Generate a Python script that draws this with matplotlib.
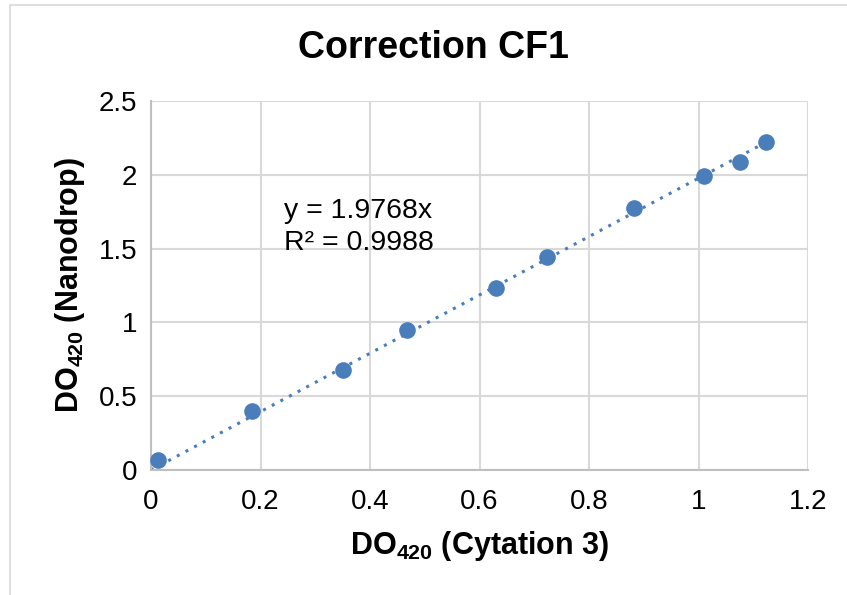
import matplotlib.pyplot as plt
import numpy as np
from matplotlib.patches import Rectangle

plt.rcParams['font.family'] = ['Liberation Sans', 'DejaVu Sans']
plt.rcParams['mathtext.fontset'] = 'custom'
plt.rcParams['mathtext.rm'] = 'Liberation Sans'
plt.rcParams['mathtext.bf'] = 'Liberation Sans:bold'

cytation = [0.013, 0.185, 0.351, 0.468, 0.631, 0.7225, 0.882, 1.01, 1.076, 1.123]
nanodrop = [0.068, 0.40, 0.68, 0.95, 1.236, 1.44, 1.773, 1.99, 2.09, 2.225]
slope = 1.9768
r2 = 0.9988

fig = plt.figure(figsize=(8.47, 5.95), dpi=100)
ax = fig.add_axes([151 / 847, 1 - 470 / 595, 657 / 847, 369 / 595])

# outer chart border
fig.patches.append(Rectangle((10 / 847, -0.05), 1.2, 1 - 5 / 595 + 0.05, transform=fig.transFigure,
                             fill=False, edgecolor='#d9d9d9', linewidth=1.2))

blue = '#4a7ebb'
xfit = np.array([0, max(cytation)])
ax.plot(xfit, slope * xfit, linestyle=(0, (1, 2.2)), color=blue, linewidth=2.2, zorder=2)
ax.scatter(cytation, nanodrop, s=120, color=blue, zorder=3, clip_on=False)

ax.set_xlim(0, 1.2)
ax.set_ylim(0, 2.5)
ax.set_xticks(np.arange(0, 1.21, 0.2))
ax.set_xticklabels(['0', '0.2', '0.4', '0.6', '0.8', '1', '1.2'])
ax.set_yticks(np.arange(0, 2.51, 0.5))
ax.set_yticklabels(['0', '0.5', '1', '1.5', '2', '2.5'])
ax.grid(True, color='#d9d9d9', linewidth=1.5)
ax.set_axisbelow(True)
for side in ['top', 'right']:
    ax.spines[side].set_visible(False)
for side in ['left', 'bottom']:
    ax.spines[side].set_color('#bfbfbf')
    ax.spines[side].set_linewidth(1.5)
ax.tick_params(length=0, labelsize=20, colors='#000000')
ax.tick_params(axis='x', pad=14)
ax.tick_params(axis='y', pad=10)

fig.text(433 / 847, 1 - 48 / 595, 'Correction CF1', fontsize=27, fontweight='bold',
         ha='center', va='center')
ax.set_xlabel('DO$_{\\mathbf{420}}$ (Cytation 3)', fontsize=22, fontweight='bold', labelpad=10)
ax.set_ylabel('DO$_{\\mathbf{420}}$ (Nanodrop)', fontsize=22, fontweight='bold', labelpad=8)

ax.text(0.243, 1.84, 'y = 1.9768x\nR² = 0.9988', fontsize=20.5, linespacing=1.3, va='top')

fig.savefig('out.png', dpi=100)
